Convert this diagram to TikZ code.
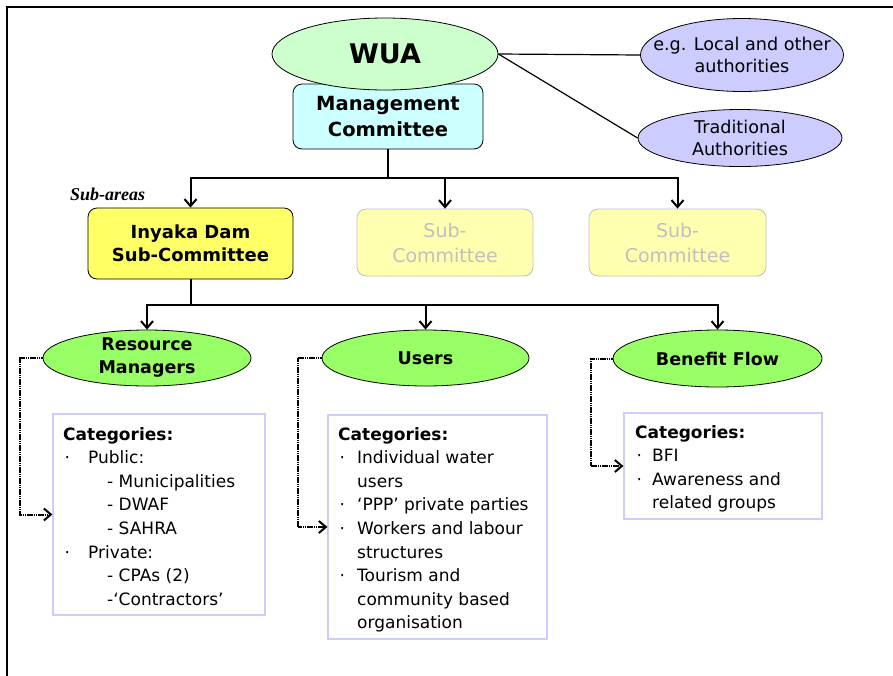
\documentclass[tikz,border=0pt]{standalone}
\usepackage{fontspec}
\setmainfont{DejaVu Sans}
\newfontfamily\areafont{Liberation Serif}
\usetikzlibrary{shapes.geometric,arrows.meta}

\definecolor{wuagreen}{RGB}{204,255,204}
\definecolor{mccyan}{RGB}{204,255,255}
\definecolor{lav}{RGB}{204,204,255}
\definecolor{subyellow}{RGB}{255,255,102}
\definecolor{paleyellow}{RGB}{255,255,176}
\definecolor{palegray}{RGB}{192,192,192}
\definecolor{grpgreen}{RGB}{153,255,102}

% bullet followed by a fixed indent
\newcommand\bul[1]{\makebox[#1][l]{\hspace{1.5pt}·}}

\tikzset{
  size/.style 2 args={minimum width=#1, minimum height=#2},
  oval/.style={ellipse, draw=black, line width=0.8pt, inner sep=0pt, align=center},
  roundbox/.style={rectangle, rounded corners=9pt, draw=black, line width=0.8pt,
                   inner sep=0pt, align=center},
  fadedbox/.style={roundbox, draw=palegray, fill=paleyellow, text=palegray,
                   font=\fontsize{19}{25}\selectfont},
  groupoval/.style={oval, fill=grpgreen, inner xsep=-30pt, inner ysep=-8pt,
                    font=\bfseries\fontsize{17.5}{23}\selectfont},
  authoval/.style={oval, fill=lav, inner xsep=-30pt, inner ysep=-10pt,
                   font=\fontsize{17.6}{22.5}\selectfont},
  catbox/.style={rectangle, draw=lav, line width=1.2pt, inner sep=0pt},
  cattext/.style={anchor=north west, inner sep=0pt, align=left,
                  font=\fontsize{17}{23.6}\selectfont},
  tree/.style={line width=2pt},
  treearrow/.style={tree, -{Straight Barb[length=7pt,width=12pt]}},
  dotarrow/.style={line width=2pt, dash pattern=on 1.6pt off 0.6pt,
                   -{Straight Barb[length=7pt,width=12pt]}},
  link/.style={line width=1.2pt}
}

\begin{document}
\begin{tikzpicture}[x=1pt,y=-1pt]
\useasboundingbox (0,0) rectangle (893,675);

% outer frame
\draw[line width=2pt, line cap=rect] (893,7) -- (7,7) -- (7,676);

% governing body
\node[roundbox, fill=mccyan, size={190pt}{65pt},
      font=\bfseries\fontsize{19.5}{26}\selectfont] (mc) at (388,116.5)
      {Management\\Committee};
\node[oval, fill=wuagreen, size={226pt}{72pt},
      font=\bfseries\fontsize{27}{30}\selectfont] (wua) at (385,54) {WUA};

\node[authoval, size={203pt}{73pt}] (local) at (742,55)
      {e.g. Local and other\\authorities};
\node[authoval, size={204pt}{57pt}] (trad) at (740,138)
      {Traditional\\Authorities};

\draw[link] (wua.east) -- (local.west);
\draw[link] (wua.east) -- (trad.west);

% sub-areas
\node[anchor=base west, inner sep=0pt,
      font=\areafont\bfseries\itshape\fontsize{18}{20}\selectfont] (areas) at (70,200) {Sub-areas};

\node[roundbox, fill=subyellow, size={205pt}{71pt},
      font=\bfseries\fontsize{18}{23}\selectfont] (inyaka) at (190.5,243.5)
      {Inyaka Dam\\Sub-Committee};
\node[fadedbox, size={176pt}{67pt}] (sub1) at (445,242.5) {Sub-\\Committee};
\node[fadedbox, size={177pt}{67pt}] (sub2) at (677.5,242.5) {Sub-\\Committee};

\coordinate (bar1) at (mc.south |- 0,178);
\draw[tree] (mc.south) -- (bar1);
\draw[treearrow] (bar1) -| (inyaka.north);
\draw[treearrow] (bar1) -| (sub1.north);
\draw[treearrow] (bar1) -| (sub2.north);

% stakeholder groups
\node[groupoval, size={208pt}{56pt}] (rm) at (147,358) {Resource\\Managers};
\node[groupoval, size={207pt}{56pt}] (users) at (425.5,358) {Users};
\node[groupoval, size={209pt}{57pt}] (bf) at (717.5,358.5) {Benefit Flow};

\coordinate (bar2) at (inyaka.south |- 0,305);
\draw[tree] (inyaka.south) -- (bar2);
\draw[treearrow] (bar2) -| (rm.north);
\draw[treearrow] (bar2) -| (users.north);
\draw[treearrow] (bar2) -| (bf.north);

% category lists
\node[catbox, size={212pt}{201pt}] (rmcat) at (159,514.5) {};
\node[cattext] (rmtext) at (63,427)
  {\textbf{Categories:}\\
   \bul{25pt}Public:\\
   \hspace*{44pt}- Municipalities\\
   \hspace*{44pt}- DWAF\\
   \hspace*{44pt}- SAHRA\\
   \bul{25pt}Private:\\
   \hspace*{44pt}- CPAs (2)\\
   \hspace*{44pt}-‘Contractors’};

\node[catbox, size={219pt}{224pt}] (ucat) at (437.5,527) {};
\node[cattext] (utext) at (338,427)
  {\textbf{Categories:}\\
   \bul{19pt}Individual water\\
   \hspace*{19pt}users\\
   \bul{19pt}‘PPP’ private parties\\
   \bul{19pt}Workers and labour\\
   \hspace*{19pt}structures\\
   \bul{19pt}Tourism and\\
   \hspace*{19pt}community based\\
   \hspace*{19pt}organisation};

\node[catbox, size={198pt}{106pt}] (bfcat) at (723,466) {};
\node[cattext] (bftext) at (635,425)
  {\textbf{Categories:}\\
   \bul{17pt}BFI\\
   \bul{17pt}Awareness and\\
   \hspace*{17pt}related groups};

\draw[dotarrow] (rm.west) -- ++(-23,0) |- (rmcat.west);
\draw[dotarrow] (users.west) -- ++(-24,0) |- (ucat.west);
\draw[dotarrow] (bf.west) -- ++(-22,0) |- (bfcat.west);
\end{tikzpicture}
\end{document}
